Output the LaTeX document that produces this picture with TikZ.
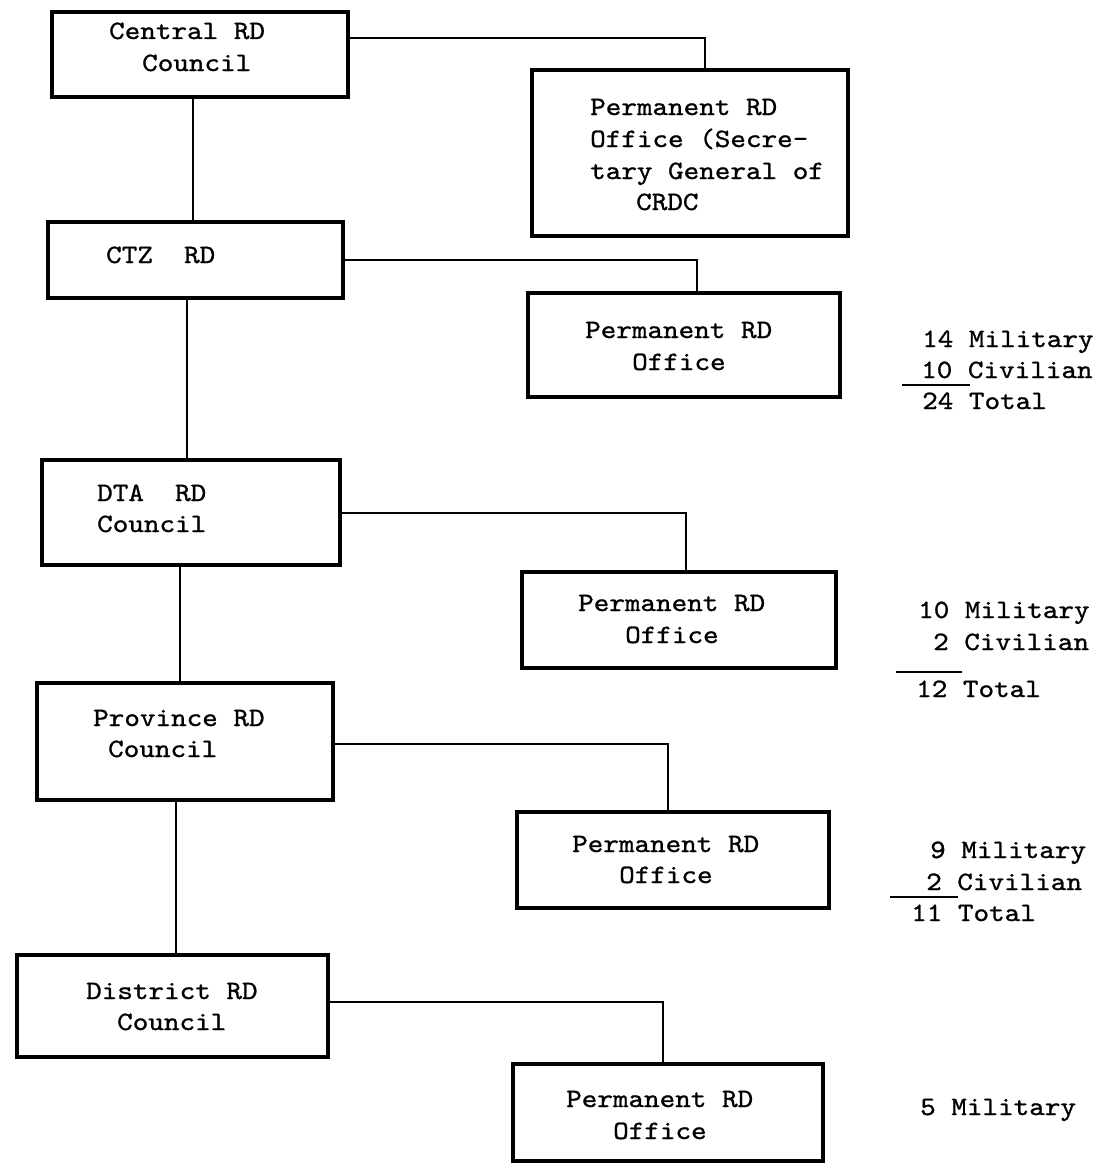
\documentclass[tikz,border=0pt]{standalone}
\usepackage{fontspec}
\newfontfamily\tw{lmmono10-regular.otf}[FakeBold=1.0, FakeStretch=1.12]
\begin{document}
\begin{tikzpicture}[x=1pt,y=-1pt,
  box/.style={draw, line width=3.4pt, inner sep=0pt, rectangle},
  link/.style={line width=2.7pt},
  rule/.style={line width=1.8pt},
  txt/.style={anchor=base west, inner sep=0pt, font=\tw\fontsize{26.5}{31}\selectfont}]
\useasboundingbox (0,0) rectangle (1104,1164);

% councils on the left
\node[box, minimum width=296pt, minimum height=85pt]  (cen) at (200,54.5) {};
\node[box, minimum width=295pt, minimum height=76pt]  (ctz) at (195.5,260) {};
\node[box, minimum width=298pt, minimum height=105pt] (dta) at (191,512.5) {};
\node[box, minimum width=296pt, minimum height=117pt] (prv) at (185,741.5) {};
\node[box, minimum width=311pt, minimum height=102pt] (dst) at (172.5,1006) {};

% permanent offices on the right
\node[box, minimum width=316pt, minimum height=166pt] (p1) at (690,153) {};
\node[box, minimum width=312pt, minimum height=104pt] (p2) at (684,345) {};
\node[box, minimum width=314pt, minimum height=96pt]  (p3) at (679,620) {};
\node[box, minimum width=312pt, minimum height=96pt]  (p4) at (673,860) {};
\node[box, minimum width=310pt, minimum height=97pt]  (p5) at (668,1112.5) {};

% box texts
\node[txt] (t1a) at (109,39)  {Central RD};
\node[txt] (t1b) at (142,71)  {Council};
\node[txt] (q1a) at (590,115) {Permanent RD};
\node[txt] (q1b) at (590,147) {Office (Secre-};
\node[txt] (q1c) at (590,179) {tary General of};
\node[txt] (q1d) at (636,210) {CRDC};
\node[txt] (t2a) at (106,263) {CTZ\hphantom{XX}RD};
\node[txt] (q2a) at (585,338) {Permanent RD};
\node[txt] (q2b) at (632,370) {Office};
\node[txt] (t3a) at (97,501)  {DTA\hphantom{XX}RD};
\node[txt] (t3b) at (97,532)  {Council};
\node[txt] (q3a) at (578,611) {Permanent RD};
\node[txt] (q3b) at (625,643) {Office};
\node[txt] (t4a) at (93,726)  {Province RD};
\node[txt] (t4b) at (108,757) {Council};
\node[txt] (q4a) at (572,852) {Permanent RD};
\node[txt] (q4b) at (619,883) {Office};
\node[txt] (t5a) at (86,999)  {District RD};
\node[txt] (t5b) at (117,1030) {Council};
\node[txt] (q5a) at (566,1107) {Permanent RD};
\node[txt] (q5b) at (613,1139) {Office};

% staffing figures
\node[txt] (s1a) at (922,347) {14 Military};
\node[txt] (s1b) at (921,378) {10 Civilian};
\node[txt] (s1c) at (922,409) {24 Total};
\draw[rule] (902,385) -- (970,385);
\node[txt] (s2a) at (918,618) {10 Military};
\node[txt] (s2b) at (933,650) {2 Civilian};
\node[txt] (s2c) at (916,697) {12 Total};
\draw[rule] (896,672) -- (962,672);
\node[txt] (s3a) at (930,858) {9 Military};
\node[txt] (s3b) at (926,890) {2 Civilian};
\node[txt] (s3c) at (911,921) {11 Total};
\draw[rule] (890,897) -- (958,897);
\node[txt] (s4a) at (920,1115) {5 Military};

% vertical chain of councils
\coordinate (v1) at (193,0);
\coordinate (v2) at (187,0);
\coordinate (v3) at (180,0);
\coordinate (v4) at (176,0);
\draw[link] (cen.south -| v1) -- (ctz.north -| v1);
\draw[link] (ctz.south -| v2) -- (dta.north -| v2);
\draw[link] (dta.south -| v3) -- (prv.north -| v3);
\draw[link] (prv.south -| v4) -- (dst.north -| v4);

% each council to its permanent office
\coordinate (k1) at (705,38);
\coordinate (k2) at (697,260);
\coordinate (k3) at (686,513);
\coordinate (k4) at (668,744);
\coordinate (k5) at (663,1002);
\draw[link] (cen.east |- k1) -| (p1.north -| k1);
\draw[link] (ctz.east |- k2) -| (p2.north -| k2);
\draw[link] (dta.east |- k3) -| (p3.north -| k3);
\draw[link] (prv.east |- k4) -| (p4.north -| k4);
\draw[link] (dst.east |- k5) -| (p5.north -| k5);
\end{tikzpicture}
\end{document}
